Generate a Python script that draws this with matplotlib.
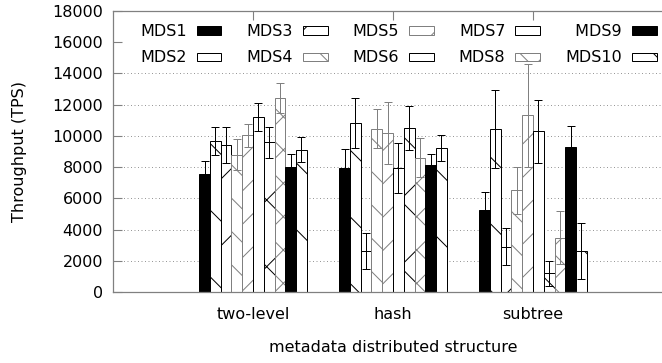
import numpy as np
import matplotlib
matplotlib.use('Agg')
import matplotlib.pyplot as plt

# figure is drawn at half size and 200 dpi so the hatch spacing looks like gnuplot's
plt.rcParams['font.family'] = 'DejaVu Sans'
plt.rcParams['font.size'] = 5.75
plt.rcParams['hatch.linewidth'] = 0.36

structures = ['two-level', 'hash', 'subtree']
servers = ['MDS1', 'MDS2', 'MDS3', 'MDS4', 'MDS5',
           'MDS6', 'MDS7', 'MDS8', '\u2007MDS9', 'MDS10']

# throughput per server (rows) for each structure (columns)
tps = [[7530, 7940, 5250],
       [9660, 10830, 10450],
       [9430, 2640, 2890],
       [8800, 10450, 6510],
       [10040, 10190, 11320],
       [11190, 7920, 10300],
       [9590, 10490, 1190],
       [12430, 8600, 3490],
       [8020, 8110, 9260],
       [9110, 9210, 2640]]
err = [[850, 1200, 1150],
       [880, 1620, 2500],
       [1150, 1150, 1190],
       [1000, 1250, 1520],
       [720, 1970, 3300],
       [890, 1600, 2020],
       [980, 1400, 790],
       [960, 1250, 1710],
       [790, 700, 1360],
       [800, 850, 1790]]

fills = ['k', 'w', 'w', 'w', 'w', 'w', 'w', 'w', 'k', 'w']
hatches = ['', '\\', '/', '\\\\', '//', '', 'x', 'xx', '', '\\']
edges = ['k', 'k', 'k', '#808080', '#808080', 'k', 'k', '#808080', 'k', 'k']

fig = plt.figure(figsize=(3.31, 1.815), dpi=200)
ax = fig.add_axes([113/662, 1 - 292/363, 560/662, 281/363])

x = np.arange(len(structures))
w = 1/13.
for j, name in enumerate(servers):
    pos = x + (j - 4.5)*w
    ax.bar(pos, tps[j], w, color=fills[j], edgecolor=edges[j],
           hatch=hatches[j], linewidth=0.36, label=name, zorder=2)
    ax.errorbar(pos, tps[j], yerr=err[j], fmt='none', ecolor=edges[j],
                elinewidth=0.36, capsize=1.6, capthick=0.36, zorder=3)

ax.set_xlim(-1, 3)
ax.set_ylim(0, 18000)
ax.set_yticks(np.arange(0, 18001, 2000))
ax.set_xticks(x)
ax.set_xticklabels(structures)
ax.tick_params(direction='in', length=3.2, width=0.4, color='#808080',
               top=True, right=True)
ax.tick_params(axis='y', pad=3.6)
ax.tick_params(axis='x', pad=5.5)
for s in ax.spines.values():
    s.set_color('#808080')
    s.set_linewidth(0.45)

ax.set_axisbelow(True)
ax.yaxis.grid(True, color='#999999', linestyle=(0, (1, 2.5)), linewidth=0.36)
ax.get_ygridlines()[8].set_visible(False)

ax.set_ylabel('Throughput (TPS)', labelpad=9)
ax.set_xlabel('metadata distributed structure', labelpad=6.5)

fig.legend(loc='upper left', bbox_to_anchor=(140/662, 1 - 24/363), ncol=5,
           frameon=False, markerfirst=False, borderpad=0, borderaxespad=0,
           handlelength=1.56, handleheight=0.45, handletextpad=0.62,
           columnspacing=1.56, labelspacing=0.72)

fig.savefig('out.png', dpi=200)
